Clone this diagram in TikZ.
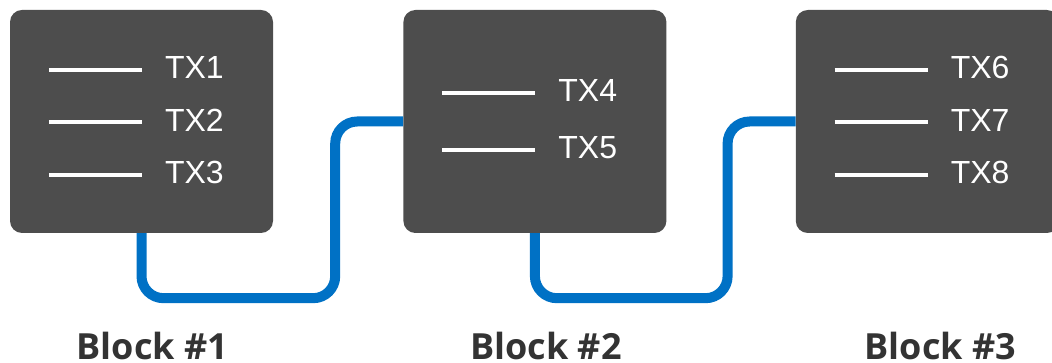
\documentclass[tikz,border=0pt]{standalone}
\usepackage{fontspec}
\setmainfont{Liberation Sans}
\newfontfamily\labelfont{Open Sans}
\usepackage{xcolor}
\usepackage{tikz}
\usetikzlibrary{positioning, calc}
\definecolor{boxgray}{HTML}{4D4D4D}
\definecolor{linkblue}{HTML}{0071C5}
\definecolor{labelgray}{HTML}{333333}
\tikzstyle{block} = [rectangle, rounded corners=12pt, minimum width=263pt, minimum height=223pt, inner sep=0pt, fill=boxgray]
\tikzstyle{txlabel} = [inner sep=0pt, anchor=base west, text=white, font=\fontsize{32}{32}\selectfont]
\tikzstyle{txline} = [white, line width=4pt]
\tikzstyle{link} = [linkblue, line width=10pt, rounded corners=22pt]
\tikzstyle{blocklabel} = [inner sep=0pt, anchor=base, text=labelgray, font=\labelfont\bfseries\fontsize{36}{36}\selectfont]

\begin{document}
\begin{tikzpicture}[x=1pt, y=1pt]
			\useasboundingbox (0,0) rectangle (1052,363);
			\node (blk1) [block] at (141.5,241.5) {};
			\node (blk2) [block, right=130pt of blk1] {};
			\node (blk3) [block, right=129pt of blk2] {};

			% transactions inside each block
			\foreach \n/\b/\dy in {1/blk1/51.5, 2/blk1/-1, 3/blk1/-53.5, 4/blk2/28.5, 5/blk2/-28.5, 6/blk3/51.5, 7/blk3/-1, 8/blk3/-53.5} {
				\node (tx\n) [txlabel] at ($(\b.west)+(155,\dy-9)$) {TX\n};
				\draw [txline] ($(\b.west)+(39,\dy)$) -- ++(93,0);
			}

			% chain links
			\coordinate (c1) at ($(blk2.west |- blk1.south)+(-68,-65)$);
			\coordinate (c2) at ($(blk3.west |- blk2.south)+(-68,-65)$);
			\draw [link] (blk1.south) |- (c1) |- (blk2.west);
			\draw [link] (blk2.south) |- (c2) |- (blk3.west);

			\node (lab1) [blocklabel] at ($(blk1.south)+(11,-126)$) {Block \#1};
			\node (lab2) [blocklabel] at ($(blk2.south)+(11,-126)$) {Block \#2};
			\node (lab3) [blocklabel] at ($(blk3.south)+(13,-126)$) {Block \#3};
		\end{tikzpicture}
\end{document}
